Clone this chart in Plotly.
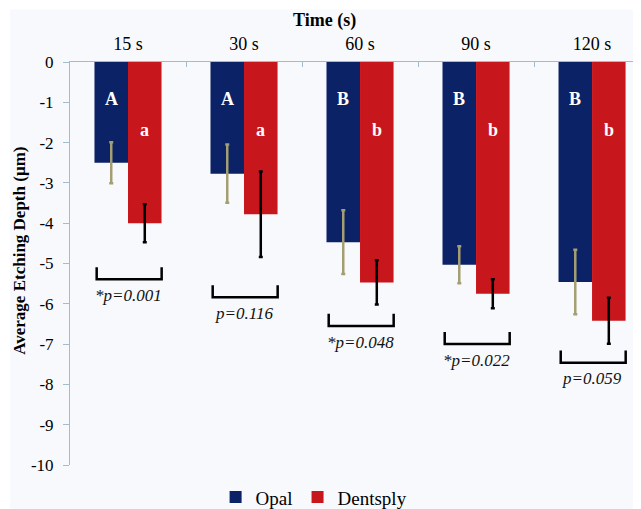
import plotly.graph_objects as go

categories = ["15 s", "30 s", "60 s", "90 s", "120 s"]
opal_mean = [-2.50, -2.77, -4.47, -5.03, -5.46]
opal_sd = [0.51, 0.72, 0.79, 0.46, 0.80]
dent_mean = [-4.00, -3.78, -5.47, -5.75, -6.42]
dent_sd = [0.47, 1.06, 0.55, 0.36, 0.57]
opal_letters = ["A", "A", "B", "B", "B"]
dent_letters = ["a", "a", "b", "b", "b"]
p_labels = ["*p=0.001", "p=0.116", "*p=0.048", "*p=0.022", "p=0.059"]
bracket_y = [-5.39, -5.84, -6.55, -7.00, -7.46]
y_ticks = list(range(0, -11, -1))
y_ticktext = [str(v) for v in y_ticks]

OPAL = "#0b2266"
DENT = "#c8161d"
FONT = "Liberation Serif, Times New Roman, serif"

fig = go.Figure()
fig.add_trace(go.Bar(
    name="Opal", x=categories, y=opal_mean, marker_color=OPAL, marker_line_width=0,
    error_y=dict(type="data", array=opal_sd, color="#a49f72", thickness=2.5, width=2),
))
fig.add_trace(go.Bar(
    name="Dentsply", x=categories, y=dent_mean, marker_color=DENT, marker_line_width=0,
    error_y=dict(type="data", array=dent_sd, color="#000000", thickness=2.5, width=2),
))

off = 0.145
annotations = []
shapes = [dict(type="rect", xref="paper", yref="paper",
               x0=(10 - 70) / 571, x1=1.05, y0=-(509 - 465) / 402.5, y1=1 + (62.5 - 10) / 402.5,
               fillcolor="#f7f9fc", line_width=0, layer="below")]
for i in range(len(categories)):
    annotations.append(dict(x=i - off, y=-0.93, xref="x", yref="y", text="<b>%s</b>" % opal_letters[i],
                            showarrow=False, xanchor="center", yanchor="middle",
                            font=dict(family=FONT, size=18, color="white")))
    annotations.append(dict(x=i + off, y=-1.68, xref="x", yref="y", text="<b>%s</b>" % dent_letters[i],
                            showarrow=False, xanchor="center", yanchor="middle",
                            font=dict(family=FONT, size=18, color="white")))
    annotations.append(dict(x=i, y=bracket_y[i] - 0.4, xref="x", yref="y", text="<i>%s</i>" % p_labels[i],
                            showarrow=False, xanchor="center", yanchor="middle",
                            font=dict(family=FONT, size=17, color="#111111")))
    b = bracket_y[i]
    shapes.append(dict(type="path", xref="x", yref="y",
                       path="M %f %f L %f %f L %f %f L %f %f" % (i - 0.27, b + 0.3, i - 0.27, b, i + 0.29, b, i + 0.29, b + 0.3),
                       line=dict(color="black", width=2.5)))

annotations.append(dict(x=(324 - 70) / 571, y=1 + (62.5 - 21) / 402.5, xref="paper", yref="paper",
                        xanchor="center", yanchor="middle",
                        text="<b>Time (s)</b>", showarrow=False, font=dict(family=FONT, size=18, color="black")))
annotations.append(dict(x=(20 - 70) / 571, y=(465 - 251) / 402.5, xref="paper", yref="paper", textangle=-90,
                        xanchor="center", yanchor="middle",
                        text="<b>Average Etching Depth (µm)</b>", showarrow=False,
                        font=dict(family=FONT, size=17, color="black")))

fig.update_layout(
    width=633, height=501,
    margin=dict(l=62, r=0, t=54, b=44, autoexpand=False),
    paper_bgcolor="white", plot_bgcolor="rgba(0,0,0,0)",
    barmode="group", bargap=0.422, bargroupgap=0,
    font=dict(family=FONT, size=17, color="black"),
    showlegend=True,
    legend=dict(orientation="h", x=0.255, xanchor="left", y=-0.08, yanchor="middle",
                font=dict(family=FONT, size=19), itemwidth=30, bgcolor="rgba(0,0,0,0)"),
    annotations=annotations, shapes=shapes,
)
fig.update_xaxes(side="top", range=[-0.5, 4.422], tickson="boundaries", ticks="inside", ticklen=5,
                 tickcolor="#a3bccd", showline=True, linecolor="#a3bccd", linewidth=1, automargin=False,
                 showgrid=False, tickfont=dict(family=FONT, size=18), zeroline=False, ticklabelstandoff=4)
fig.update_yaxes(range=[-10, 0], tickvals=y_ticks, ticktext=y_ticktext, ticks="outside", ticklen=6,
                 tickcolor="#a3bccd", automargin=False,
                 showline=True, linecolor="#a3bccd", linewidth=1, showgrid=False, zeroline=False,
                 tickfont=dict(family=FONT, size=17), ticklabelstandoff=6)

fig.write_html("out.html")
